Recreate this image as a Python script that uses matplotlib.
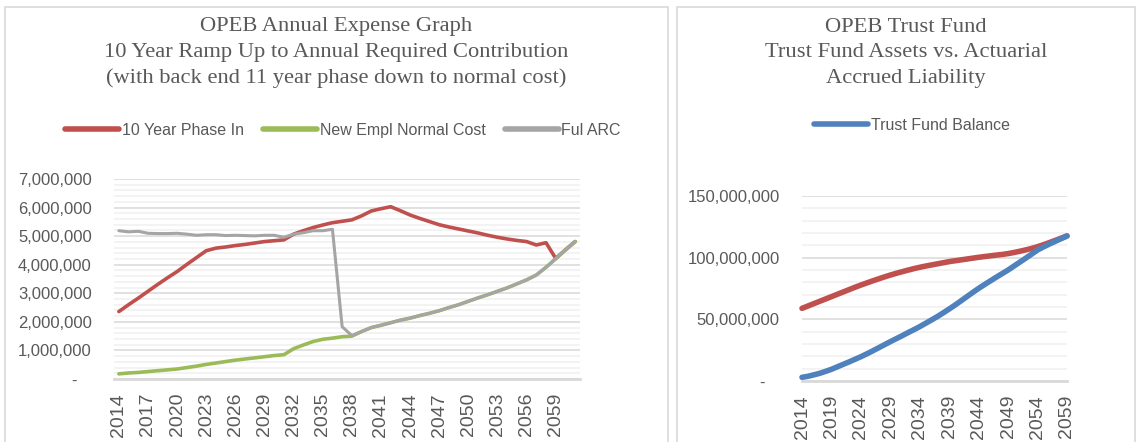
import numpy as np
from matplotlib import pyplot as plt
from matplotlib.patches import Rectangle
from matplotlib.ticker import MultipleLocator, FuncFormatter

# left chart: annual expense (values in millions)
years_left = list(range(2014, 2062))
phase_in = [2.36, 2.60, 2.83, 3.07, 3.31, 3.54, 3.76, 4.01, 4.25, 4.49,
            4.58, 4.62, 4.67, 4.71, 4.76, 4.81, 4.84, 4.87, 5.07, 5.19,
            5.30, 5.39, 5.47, 5.52, 5.57, 5.71, 5.88, 5.96, 6.03, 5.89,
            5.74, 5.62, 5.51, 5.40, 5.32, 5.25, 5.18, 5.11, 5.03, 4.96,
            4.90, 4.85, 4.81, 4.69, 4.77, 4.22, 4.52, 4.81]
normal_cost = [0.18, 0.21, 0.23, 0.26, 0.29, 0.32, 0.35, 0.40, 0.45, 0.51,
               0.56, 0.61, 0.66, 0.70, 0.74, 0.78, 0.82, 0.85, 1.06, 1.19,
               1.31, 1.39, 1.43, 1.48, 1.50, 1.66, 1.80, 1.88, 1.97, 2.06,
               2.13, 2.22, 2.30, 2.39, 2.50, 2.60, 2.72, 2.84, 2.95, 3.07,
               3.19, 3.33, 3.47, 3.64, 3.91, 4.21, 4.52, 4.81]
full_arc = [5.19, 5.15, 5.17, 5.10, 5.09, 5.09, 5.10, 5.07, 5.03, 5.05,
            5.05, 5.02, 5.03, 5.02, 5.01, 5.03, 5.03, 4.96, 5.07, 5.12,
            5.19, 5.19, 5.24, 1.83, 1.52, 1.66, 1.80, 1.88, 1.97, 2.06,
            2.13, 2.22, 2.30, 2.39, 2.50, 2.60, 2.72, 2.84, 2.95, 3.07,
            3.19, 3.33, 3.47, 3.64, 3.91, 4.21, 4.52, 4.81]

# right chart: trust fund (values in millions)
years_right = list(range(2014, 2060))
trust_balance = [3.0, 3.8, 5.0, 6.2, 7.8, 9.5, 11.5, 13.5, 15.5, 17.6,
                 19.7, 22.0, 24.4, 26.9, 29.4, 31.9, 34.3, 36.7, 39.2, 41.6,
                 44.1, 46.8, 49.5, 52.3, 55.3, 58.4, 61.6, 65.0, 68.4, 71.8,
                 75.1, 78.2, 81.2, 84.2, 87.1, 90.0, 93.2, 96.4, 99.6, 102.9,
                 106.2, 108.7, 111.0, 113.2, 115.4, 117.6]
accrued_liab = [58.9, 60.8, 62.7, 64.6, 66.5, 68.4, 70.3, 72.2, 74.1, 76.0,
                77.8, 79.5, 81.2, 82.8, 84.4, 85.9, 87.3, 88.6, 89.9, 91.1,
                92.2, 93.2, 94.1, 95.0, 95.9, 96.8, 97.5, 98.2, 98.9, 99.6,
                100.3, 100.9, 101.5, 102.1, 102.6, 103.3, 104.2, 105.2, 106.3, 107.5,
                108.9, 110.5, 112.2, 114.0, 115.8, 117.6]

grey = '#595959'
W, H = 1139, 442

fig = plt.figure(figsize=(W / 100, H / 100), dpi=100)

# panel borders
for x0, x1 in [(5, 668), (677, 1135)]:
    fig.patches.append(Rectangle((x0 / W, -0.05), (x1 - x0) / W, 1.05 - 7 / H,
                                 transform=fig.transFigure, fill=False,
                                 edgecolor='#d9d9d9', lw=1.2))


def money(v, pos):
    if v == 0:
        return '-   '
    return '{:,.0f}'.format(v)


def style(ax, major, minor, top):
    ax.set_ylim(0, top)
    ax.yaxis.set_major_locator(MultipleLocator(major))
    ax.yaxis.set_minor_locator(MultipleLocator(minor))
    ax.yaxis.set_major_formatter(FuncFormatter(money))
    ax.grid(axis='y', which='major', color='#d9d9d9', lw=1.1)
    ax.grid(axis='y', which='minor', color='#f0f0f0', lw=1.1)
    ax.set_axisbelow(True)
    for s in ['top', 'left', 'right']:
        ax.spines[s].set_visible(False)
    ax.spines['bottom'].set_color('#d9d9d9')
    ax.spines['bottom'].set_linewidth(2)
    ax.tick_params(which='both', length=0, colors=grey)
    ax.tick_params(axis='y', labelsize=12, pad=16)
    ax.tick_params(axis='x', labelsize=14, pad=10, labelrotation=90)
    for lab in ax.get_yticklabels() + ax.get_xticklabels():
        lab.set_family('Liberation Sans')


# ---- left chart
ax1 = fig.add_axes([114 / W, 1 - 379 / H, (580 - 114) / W, 200 / H])
xs = np.arange(len(years_left))
l1, = ax1.plot(xs, np.array(phase_in) * 1e6, color='#c0504d', lw=2.6,
               solid_capstyle='round', label='10 Year Phase In')
l2, = ax1.plot(xs, np.array(normal_cost) * 1e6, color='#9bbb59', lw=2.6,
               solid_capstyle='round', label='New Empl Normal Cost')
l3, = ax1.plot(xs, np.array(full_arc) * 1e6, color='#a5a5a5', lw=2.2,
               solid_capstyle='round', label='Ful ARC')
ax1.set_xlim(-0.5, len(years_left) - 0.5)
ax1.set_xticks(xs[::3])
ax1.set_xticklabels([str(y) for y in years_left[::3]])
style(ax1, 1e6, 2e5, 7e6)

# ---- right chart
ax2 = fig.add_axes([802 / W, 1 - 381 / H, (1067 - 802) / W, 185 / H])
l4, = ax2.plot(years_right, np.array(accrued_liab) * 1e6, color='#c0504d',
               lw=4, solid_capstyle='round', clip_on=False)
l5, = ax2.plot(years_right, np.array(trust_balance) * 1e6, color='#4f81bd',
               lw=4, solid_capstyle='round', clip_on=False,
               label='Trust Fund Balance')
ax2.set_xlim(2014, 2059)
ax2.set_xticks(years_right[::5])
ax2.set_xticklabels([str(y) for y in years_right[::5]])
style(ax2, 5e7, 1e7, 1.5e8)

# titles
left_title = ['OPEB Annual Expense Graph',
              '10 Year Ramp Up to Annual Required Contribution',
              '(with back end 11 year phase down to normal cost)']
right_title = ['OPEB Trust Fund',
               'Trust Fund Assets vs. Actuarial',
               'Accrued Liability']
for i, (a, b) in enumerate(zip(left_title, right_title)):
    yy = 1 - (27 + 25.5 * i) / H
    fig.text(336 / W, yy, a, ha='center', va='center', color=grey,
             family='Liberation Serif', fontsize=16.2)
    fig.text(906 / W, yy, b, ha='center', va='center', color=grey,
             family='Liberation Serif', fontsize=16.2)

# legends
leg1 = fig.legend(handles=[l1, l2, l3], loc='center', ncol=3,
                  bbox_to_anchor=(343 / W, 1 - 130 / H), frameon=False,
                  prop={'family': 'Liberation Sans', 'size': 11.5},
                  handlelength=3.4, handletextpad=0.15, columnspacing=1.2)
leg2 = fig.legend(handles=[l5], loc='center',
                  bbox_to_anchor=(912 / W, 1 - 125 / H), frameon=False,
                  prop={'family': 'Liberation Sans', 'size': 11.5},
                  handlelength=3.4, handletextpad=0.15)
for leg in (leg1, leg2):
    for t in leg.get_texts():
        t.set_color(grey)
    for h in leg.get_lines():
        h.set_linewidth(4)

fig.savefig('out.png', dpi=100)
